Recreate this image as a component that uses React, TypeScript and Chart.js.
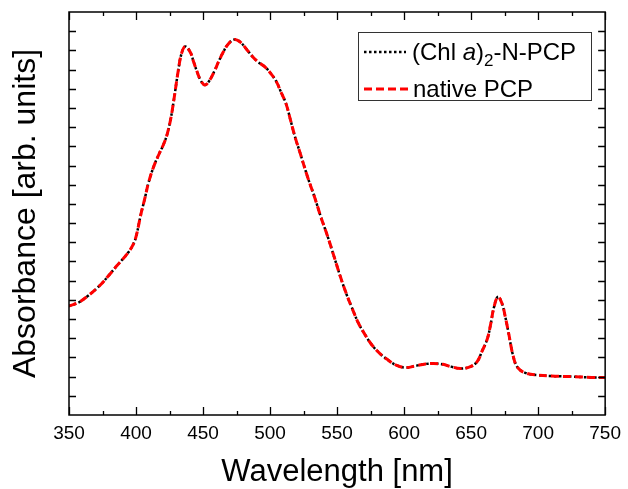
import React, { useEffect, useRef } from "react";
import { Chart, registerables } from "chart.js";

Chart.register(...registerables);

// Wavelength grid (nm)
const wavelengths = [
  350, 357, 364, 373, 380, 386, 394, 398, 400.4, 403.6, 406.8, 409.3, 413.5, 417.2, 420.8, 423.3,
  425.8, 428.2, 431.4, 434, 436.8, 440.5, 443, 445.5, 448.5, 451.5, 455, 459, 461.5, 465, 469,
  473.5, 477.5, 482, 487, 491, 496, 500.5, 504.5, 508, 512, 515.5, 519, 522, 528, 533, 538, 543,
  548, 552.5, 557, 561, 566, 571, 576, 582, 588, 594, 601.5, 609, 616, 622, 629, 635, 642, 649.5,
  654.5, 658, 662, 664.5, 667, 670, 673, 675.5, 678, 681.5, 685, 691.5, 700, 710, 725, 740, 750,
];

// Absorbance, native PCP (arb. units)
const nativePCP = [
  5.68, 5.86, 6.2, 6.75, 7.3, 7.8, 8.45, 8.9, 9.4, 10.45, 11.35, 12.1, 13.0, 13.6, 14.15, 14.65,
  15.4, 16.4, 17.9, 18.85, 19.2, 18.9, 18.4, 17.9, 17.4, 17.2, 17.45, 18.0, 18.4, 18.9, 19.35,
  19.57, 19.45, 19.1, 18.67, 18.4, 18.15, 17.8, 17.4, 16.85, 16.2, 15.3, 14.4, 13.75, 12.4, 11.4,
  10.3, 9.3, 8.2, 7.2, 6.3, 5.6, 4.78, 4.17, 3.65, 3.2, 2.87, 2.6, 2.47, 2.57, 2.66, 2.68, 2.64,
  2.52, 2.42, 2.52, 2.78, 3.3, 3.95, 4.7, 5.6, 6.16, 5.82, 5.12, 4.26, 3.04, 2.45, 2.17, 2.08,
  2.03, 2.0, 1.96, 1.96,
];

// Absorbance, (Chl a)2-N-PCP (arb. units)
const chlA2NPCP = [
  5.68, 5.86, 6.2, 6.75, 7.3, 7.8, 8.45, 8.9, 9.4, 10.45, 11.35, 12.1, 13.0, 13.6, 14.15, 14.65,
  15.4, 16.4, 17.9, 18.85, 19.2, 18.9, 18.4, 17.9, 17.4, 17.2, 17.45, 18.0, 18.4, 18.9, 19.35,
  19.57, 19.45, 19.1, 18.67, 18.4, 18.15, 17.8, 17.4, 16.85, 16.2, 15.3, 14.4, 13.75, 12.4, 11.4,
  10.3, 9.3, 8.2, 7.2, 6.3, 5.6, 4.78, 4.17, 3.65, 3.2, 2.87, 2.6, 2.47, 2.57, 2.66, 2.68, 2.64,
  2.52, 2.42, 2.52, 2.78, 3.3, 3.95, 4.7, 5.6, 6.16, 5.82, 5.12, 4.26, 3.04, 2.45, 2.17, 2.08,
  2.03, 2.0, 1.96, 1.96,
];

const xMajorTicks = [350, 400, 450, 500, 550, 600, 650, 700, 750];
const xMinorTicks = [375, 425, 475, 525, 575, 625, 675, 725];
const yTicks = [1, 2, 3, 4, 5, 6, 7, 8, 9, 10, 11, 12, 13, 14, 15, 16, 17, 18, 19, 20];

const xTitle = "Wavelength [nm]";
const yTitle = "Absorbance [arb. units]";
const FONT = "'Liberation Sans', Arial, sans-serif";

const framePlugin = {
  id: "frame",
  afterDraw(chart: any) {
    const { ctx, chartArea: a, scales } = chart;
    const xs = scales.x;
    const ys = scales.y;
    ctx.save();
    ctx.strokeStyle = "#000";
    ctx.lineWidth = 1.5;
    ctx.strokeRect(a.left, a.top, a.right - a.left, a.bottom - a.top);
    ctx.lineWidth = 1.3;
    ctx.beginPath();
    const tick = (v: number, len: number) => {
      const px = Math.round(xs.getPixelForValue(v)) + 0.5;
      ctx.moveTo(px, a.bottom);
      ctx.lineTo(px, a.bottom - len);
      ctx.moveTo(px, a.top);
      ctx.lineTo(px, a.top + len);
    };
    xMajorTicks.forEach((v) => tick(v, 8));
    xMinorTicks.forEach((v) => tick(v, 4));
    yTicks.forEach((v) => {
      const py = Math.round(ys.getPixelForValue(v)) + 0.5;
      ctx.moveTo(a.left, py);
      ctx.lineTo(a.left + 7, py);
      ctx.moveTo(a.right, py);
      ctx.lineTo(a.right - 7, py);
    });
    ctx.stroke();

    // axis titles
    ctx.fillStyle = "#000";
    ctx.font = `31px ${FONT}`;
    ctx.textAlign = "center";
    ctx.textBaseline = "alphabetic";
    ctx.fillText(xTitle, (a.left + a.right) / 2, 481);
    ctx.save();
    ctx.translate(35, (a.top + a.bottom) / 2);
    ctx.rotate(-Math.PI / 2);
    ctx.font = `32px ${FONT}`;
    ctx.fillText(yTitle, 0, 0);
    ctx.restore();

    // legend
    const lx = 358, ly = 32, lw = 233, lh = 68;
    ctx.fillStyle = "#fff";
    ctx.fillRect(lx, ly, lw, lh);
    ctx.strokeStyle = "#333";
    ctx.lineWidth = 1;
    ctx.strokeRect(lx + 0.5, ly + 0.5, lw, lh);

    ctx.lineWidth = 2.5;
    ctx.strokeStyle = "#000";
    ctx.setLineDash([2.5, 2.5]);
    ctx.beginPath();
    ctx.moveTo(364, 52);
    ctx.lineTo(406, 52);
    ctx.stroke();
    ctx.lineWidth = 3;
    ctx.strokeStyle = "#ff0000";
    ctx.setLineDash([8, 4]);
    ctx.beginPath();
    ctx.moveTo(364, 89);
    ctx.lineTo(408, 89);
    ctx.stroke();
    ctx.setLineDash([]);

    ctx.fillStyle = "#000";
    ctx.textAlign = "left";
    ctx.textBaseline = "alphabetic";
    let tx = 412;
    const by = 60;
    const part = (t: string, f: string, dy = 0) => {
      ctx.font = f;
      ctx.fillText(t, tx, by + dy);
      tx += ctx.measureText(t).width;
    };
    part("(Chl ", `24px ${FONT}`);
    part("a", `italic 24px ${FONT}`);
    part(")", `24px ${FONT}`);
    part("2", `17px ${FONT}`, 6);
    part("-N-PCP", `24px ${FONT}`);
    ctx.font = `24px ${FONT}`;
    ctx.fillText("native PCP", 413, 97);
    ctx.restore();
  },
};

export default function App() {
  const ref = useRef<HTMLCanvasElement>(null);
  useEffect(() => {
    if (!ref.current) return;
    const chart = new Chart(ref.current, {
      type: "line",
      data: {
        datasets: [
          {
            label: "native PCP",
            data: wavelengths.map((w, i) => ({ x: w, y: nativePCP[i] })),
            borderColor: "#ff0000",
            borderWidth: 3,
            borderDash: [8, 4],
            pointRadius: 0,
            tension: 0.4,
            fill: false,
          },
          {
            label: "(Chl a)2-N-PCP",
            data: wavelengths.map((w, i) => ({ x: w, y: chlA2NPCP[i] })),
            borderColor: "#000",
            borderWidth: 2.5,
            borderDash: [2.5, 2.5],
            pointRadius: 0,
            tension: 0.4,
            fill: false,
          },
        ],
      },
      options: {
        animation: false,
        responsive: false,
        devicePixelRatio: 1,
        layout: { padding: { top: 12, right: 17, left: 0, bottom: 0 } },
        plugins: { legend: { display: false }, tooltip: { enabled: false } },
        scales: {
          x: {
            type: "linear",
            min: 350,
            max: 750,
            grid: { display: false, drawTicks: false },
            border: { display: false },
            ticks: {
              stepSize: 50,
              color: "#000",
              padding: 7,
              maxRotation: 0,
              font: { family: FONT, size: 19 },
            },
            afterFit: (s: any) => {
              s.height = 74;
            },
          },
          y: {
            min: 0,
            max: 21,
            grid: { display: false, drawTicks: false },
            border: { display: false },
            ticks: { display: false, stepSize: 1 },
            afterFit: (s: any) => {
              s.width = 69;
            },
          },
        },
      },
      plugins: [framePlugin],
    });
    return () => chart.destroy();
  }, []);
  return (
    <div style={{ position: "absolute", left: 0, top: 0, width: 628, height: 489, background: "#fff" }}>
      <canvas ref={ref} width={628} height={489} style={{ display: "block" }} />
    </div>
  );
}
